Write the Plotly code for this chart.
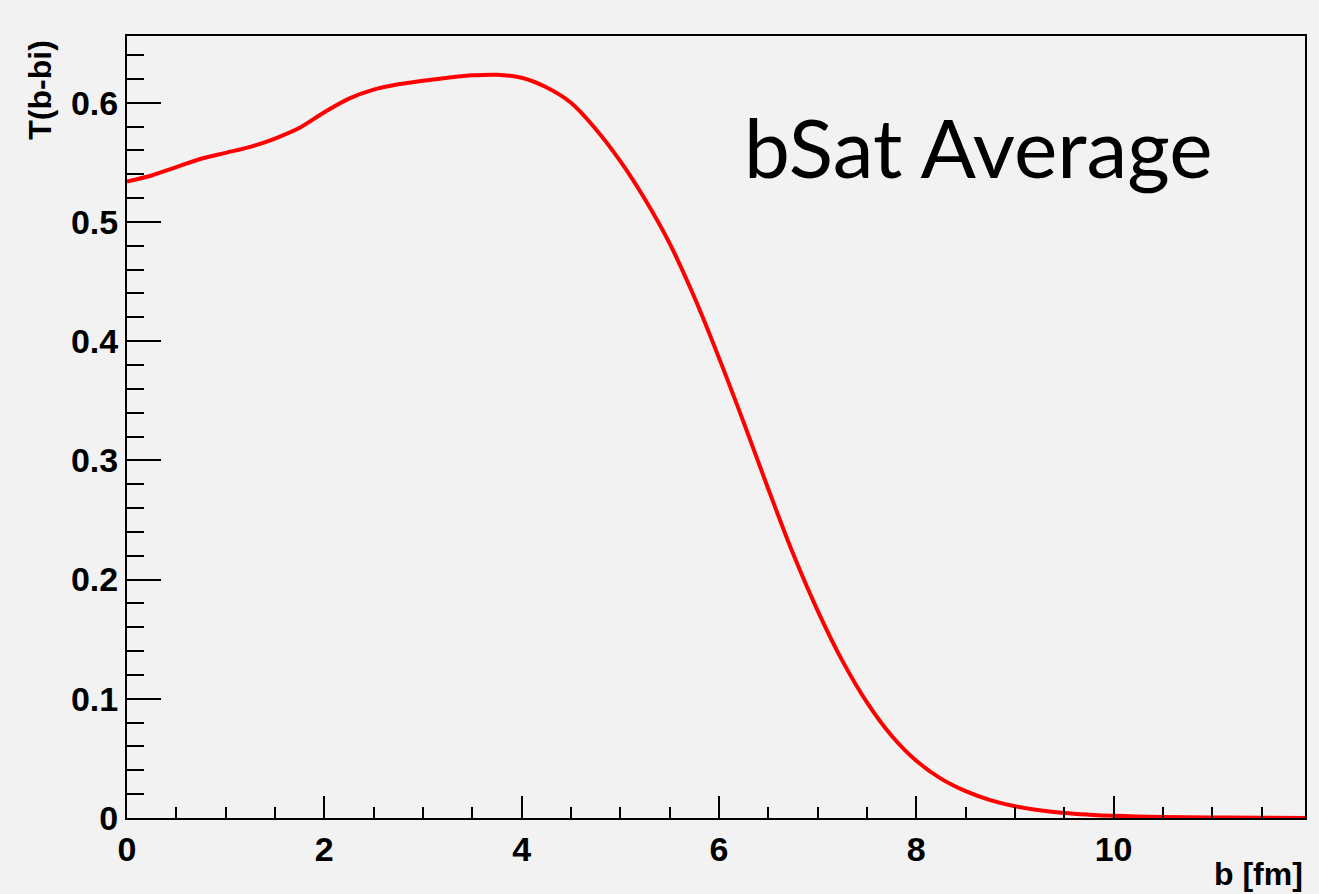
import plotly.graph_objects as go

b_fm = [0, 0.25, 0.5, 0.75, 1.0, 1.25, 1.5, 1.75, 2.0, 2.25, 2.5, 2.75, 3.0, 3.25, 3.5,
        3.75, 4.0, 4.25, 4.5, 4.75, 5.0, 5.25, 5.5, 5.75, 6.0, 6.25, 6.5, 6.75, 7.0,
        7.25, 7.5, 7.75, 8.0, 8.25, 8.5, 8.75, 9.0, 9.25, 9.5, 9.75, 10.0, 10.5, 11.0,
        11.5, 11.94]
T_val = [0.534, 0.539, 0.546, 0.553, 0.558, 0.563, 0.570, 0.579, 0.592, 0.6035, 0.611,
         0.6155, 0.6185, 0.621, 0.623, 0.6235, 0.621, 0.613, 0.600, 0.578, 0.551, 0.519,
         0.482, 0.437, 0.386, 0.332, 0.276, 0.222, 0.174, 0.132, 0.097, 0.069, 0.048,
         0.033, 0.0225, 0.015, 0.0098, 0.0065, 0.0042, 0.0028, 0.0018, 0.0008, 0.0004,
         0.0002, 0.0001]

x_title = "b [fm]"
y_title = "T(b-bi)"
label_text = "bSat Average"

BG = "#f2f2f2"
bold = dict(family="Liberation Sans, Arial, sans-serif", size=34, color="black", weight="bold")
bold_title = dict(family="Liberation Sans, Arial, sans-serif", size=32, color="black", weight="bold")

fig = go.Figure()
fig.add_trace(go.Scatter(x=b_fm, y=T_val, mode="lines",
                         line=dict(color="#ff0000", width=4, shape="spline", smoothing=1.0),
                         showlegend=False, hoverinfo="skip"))

fig.update_layout(
    width=1319, height=894,
    paper_bgcolor=BG, plot_bgcolor=BG,
    margin=dict(l=127, r=12, t=36, b=76),
    showlegend=False,
)
fig.update_xaxes(
    range=[0, 11.94], showgrid=False, zeroline=False,
    showline=True, linecolor="black", linewidth=2, mirror=True,
    ticks="inside", ticklen=22, tickwidth=2, tickcolor="black",
    tick0=0, dtick=2, tickfont=bold,
    minor=dict(ticks="inside", ticklen=11, tickwidth=2, tickcolor="black", dtick=0.5, showgrid=False),
)
fig.update_yaxes(
    range=[0, 0.656], showgrid=False, zeroline=False,
    showline=True, linecolor="black", linewidth=2, mirror=True,
    ticks="inside", ticklen=34, tickwidth=2, tickcolor="black",
    tick0=0, dtick=0.1, tickfont=bold,
    minor=dict(ticks="inside", ticklen=17, tickwidth=2, tickcolor="black", dtick=0.02, showgrid=False),
)

fig.add_annotation(text=x_title, xref="paper", yref="paper", x=1.0, y=-0.046,
                   xanchor="right", yanchor="top", showarrow=False, font=bold_title)
fig.add_annotation(text=y_title, xref="paper", yref="paper", x=-0.0746, y=0.998,
                   xanchor="center", yanchor="top", textangle=-90, showarrow=False, font=bold_title)
fig.add_annotation(text=label_text, xref="paper", yref="paper", x=0.522, y=0.859,
                   xanchor="left", yanchor="middle", showarrow=False,
                   font=dict(family="Lato, Open Sans, sans-serif", size=82, color="black"))

fig.write_html("out.html")
